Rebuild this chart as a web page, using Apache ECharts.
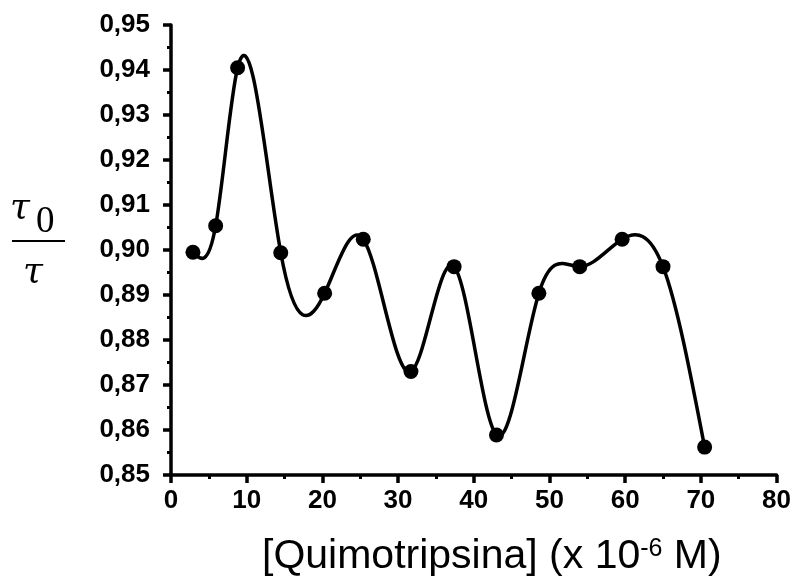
<!DOCTYPE html>
<html><head><meta charset="utf-8">
<script src="https://cdn.jsdelivr.net/npm/echarts@6/dist/echarts.min.js"></script>
<style>html,body{margin:0;padding:0;background:#fff}#c{width:794px;height:579px}</style>
</head><body><div id="c"></div>
<script>
const concentrations = [2.9, 5.9, 8.8, 14.5, 20.3, 25.4, 31.7, 37.4, 43.0, 48.6, 54.0, 59.6, 65.0, 70.5];
const tauRatio = [0.8995, 0.9054, 0.9405, 0.8994, 0.8904, 0.9024, 0.8730, 0.8963, 0.8589, 0.8904, 0.8963, 0.9024, 0.8963, 0.8562];
const xRange = [0, 80, 10];
const yRange = [0.85, 0.95, 0.01];
const xTitle = ['[Quimotripsina] (x 10', '-6', ' M)'];

// slopes of a natural cubic spline through the measured points (used only to shape the drawn curve)
function splineSlopes(xs, ys) {
  const n = xs.length, h = [], M = new Array(n).fill(0);
  for (let i = 0; i < n - 1; i++) h.push(xs[i + 1] - xs[i]);
  const a = [], b = [], c = [], d = [];
  for (let i = 1; i < n - 1; i++) {
    a.push(h[i - 1]); b.push(2 * (h[i - 1] + h[i])); c.push(h[i]);
    d.push(6 * ((ys[i + 1] - ys[i]) / h[i] - (ys[i] - ys[i - 1]) / h[i - 1]));
  }
  const m = b.length;
  for (let i = 1; i < m; i++) { const w = a[i] / b[i - 1]; b[i] -= w * c[i - 1]; d[i] -= w * d[i - 1]; }
  const sol = new Array(m);
  sol[m - 1] = d[m - 1] / b[m - 1];
  for (let i = m - 2; i >= 0; i--) sol[i] = (d[i] - c[i] * sol[i + 1]) / b[i];
  for (let i = 0; i < m; i++) M[i + 1] = sol[i];
  const s = [];
  for (let i = 0; i < n - 1; i++) s.push((ys[i + 1] - ys[i]) / h[i] - h[i] * (2 * M[i] + M[i + 1]) / 6);
  s.push((ys[n - 1] - ys[n - 2]) / h[n - 2] + h[n - 2] * (M[n - 2] + 2 * M[n - 1]) / 6);
  return s;
}
const slopes = splineSlopes(concentrations, tauRatio);
const points = concentrations.map((x, i) => [x, tauRatio[i]]);

const chart = echarts.init(document.getElementById('c'), null, {renderer: 'canvas'});
const labelFont = {fontFamily: 'Liberation Sans', fontWeight: 'bold', fontSize: 26, color: '#000'};
const axisCommon = {
  axisLine: {show: true, onZero: false, lineStyle: {color: '#000', width: 3.5}},
  axisTick: {show: true, inside: false, length: 8, lineStyle: {color: '#000', width: 3.5}},
  minorTick: {show: true, splitNumber: 2, length: 4, lineStyle: {color: '#000', width: 3}},
  splitLine: {show: false},
  minorSplitLine: {show: false}
};
chart.setOption({
  animation: false,
  backgroundColor: '#fff',
  grid: {left: 171, right: 17, top: 25, bottom: 104, containLabel: false},
  xAxis: Object.assign({
    type: 'value', min: xRange[0], max: xRange[1], interval: xRange[2],
    axisLabel: Object.assign({margin: 13}, labelFont)
  }, axisCommon),
  yAxis: Object.assign({
    type: 'value', min: yRange[0], max: yRange[1], interval: yRange[2],
    axisLabel: Object.assign({margin: 21, formatter: v => v.toFixed(2).replace('.', ',')}, labelFont)
  }, axisCommon),
  series: [{
    type: 'custom',
    data: points,
    z: 2,
    renderItem: function (params, api) {
      const i = params.dataIndex;
      if (i >= points.length - 1) return null;
      const x0 = points[i][0], y0 = points[i][1], x1 = points[i + 1][0], y1 = points[i + 1][1];
      const hh = (x1 - x0) / 3;
      const p0 = api.coord([x0, y0]);
      const c0 = api.coord([x0 + hh, y0 + slopes[i] * hh]);
      const c1 = api.coord([x1 - hh, y1 - slopes[i + 1] * hh]);
      const p1 = api.coord([x1, y1]);
      return {
        type: 'bezierCurve',
        shape: {x1: p0[0], y1: p0[1], x2: p1[0], y2: p1[1], cpx1: c0[0], cpy1: c0[1], cpx2: c1[0], cpy2: c1[1]},
        style: {stroke: '#000', lineWidth: 3.5, fill: null, lineCap: 'round'}
      };
    }
  }, {
    type: 'scatter',
    data: points,
    z: 3,
    symbol: 'circle', symbolSize: 15,
    itemStyle: {color: '#000', opacity: 1}
  }],
  graphic: [
    {type: 'text', x: 262, y: 557, style: {
      text: '{a|' + xTitle[0] + '}{s|' + xTitle[1] + '}{a|' + xTitle[2] + '}',
      verticalAlign: 'middle', align: 'left',
      rich: {
        a: {fontFamily: 'Liberation Sans', fontSize: 41, fill: '#000', color: '#000'},
        s: {fontFamily: 'Liberation Sans', fontSize: 25, fill: '#000', color: '#000', verticalAlign: 'top'}
      }
    }},
    {type: 'text', x: 10, y: 209, style: {text: 'τ', font: 'italic 36px "DejaVu Serif"', fill: '#000', verticalAlign: 'middle', align: 'left'}},
    {type: 'text', x: 36, y: 222, style: {text: '0', font: '37px "Liberation Serif"', fill: '#000', verticalAlign: 'middle', align: 'left'}},
    {type: 'line', shape: {x1: 12, y1: 241, x2: 65, y2: 241}, style: {stroke: '#000', lineWidth: 2}},
    {type: 'text', x: 23, y: 273, style: {text: 'τ', font: 'italic 36px "DejaVu Serif"', fill: '#000', verticalAlign: 'middle', align: 'left'}}
  ]
});
</script></body></html>
